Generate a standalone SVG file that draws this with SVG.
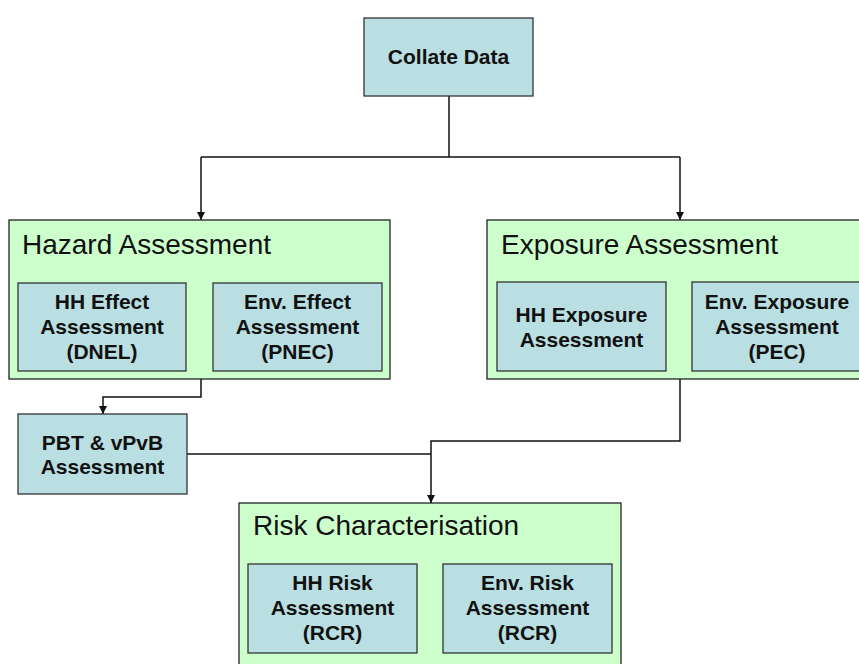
<svg xmlns="http://www.w3.org/2000/svg" width="859" height="664" viewBox="0 0 859 664">
<defs>
<style>
.outer{fill:#CCFFCC;stroke:#222;stroke-width:1.3}
.inner{fill:#B9DFE2;stroke:#333;stroke-width:1.3}
.title{font-family:"Liberation Sans",Arial,sans-serif;font-size:28px;fill:#111}
.lbl{font-family:"Liberation Sans",Arial,sans-serif;font-size:21px;font-weight:bold;fill:#111;text-anchor:middle}
.con{fill:none;stroke:#111;stroke-width:1.5}
</style>
<marker id="arr" viewBox="0 0 10 10" refX="10" refY="5" markerWidth="8" markerHeight="8" markerUnits="userSpaceOnUse" orient="auto">
<path d="M0,0 L10,5 L0,10 Z" fill="#111"/>
</marker>
</defs>
<rect width="859" height="664" fill="#fff"/>
<g id="connectors">
<path class="con" d="M449,96 V157 M201,157 H680"/>
<path class="con" d="M201,157 V220" marker-end="url(#arr)"/>
<path class="con" d="M680,157 V220" marker-end="url(#arr)"/>
<path class="con" d="M201,379 V397 H103 V414" marker-end="url(#arr)"/>
<path class="con" d="M680,379 V441 H431 V503" marker-end="url(#arr)"/>
<path class="con" d="M187,454 H431"/>
</g>
<g id="collate">
<rect class="inner" x="364" y="18" width="169" height="78"/>
<text class="lbl" x="448.5" y="64">Collate Data</text>
</g>
<g id="hazard">
<rect class="outer" x="9" y="220" width="381" height="159"/>
<text class="title" x="22" y="254">Hazard Assessment</text>
</g>
<g id="hh-effect">
<rect class="inner" x="18" y="283" width="168" height="88"/>
<text class="lbl" x="102" y="309">HH Effect</text>
<text class="lbl" x="102" y="334">Assessment</text>
<text class="lbl" x="102" y="359">(DNEL)</text>
</g>
<g id="env-effect">
<rect class="inner" x="213" y="283" width="169" height="88"/>
<text class="lbl" x="297.5" y="309">Env. Effect</text>
<text class="lbl" x="297.5" y="334">Assessment</text>
<text class="lbl" x="297.5" y="359">(PNEC)</text>
</g>
<g id="exposure">
<rect class="outer" x="487" y="220" width="390" height="159"/>
<text class="title" x="501" y="254">Exposure Assessment</text>
</g>
<g id="hh-exposure">
<rect class="inner" x="497" y="282" width="169" height="89"/>
<text class="lbl" x="581.5" y="322">HH Exposure</text>
<text class="lbl" x="581.5" y="347">Assessment</text>
</g>
<g id="env-exposure">
<rect class="inner" x="692" y="282" width="175" height="89"/>
<text class="lbl" x="777" y="309">Env. Exposure</text>
<text class="lbl" x="777" y="334">Assessment</text>
<text class="lbl" x="777" y="359">(PEC)</text>
</g>
<g id="pbt">
<rect class="inner" x="18" y="414" width="169" height="80"/>
<text class="lbl" x="102.5" y="450">PBT &amp; vPvB</text>
<text class="lbl" x="102.5" y="474">Assessment</text>
</g>
<g id="risk">
<rect class="outer" x="239" y="503" width="382" height="180"/>
<text class="title" x="253" y="535">Risk Characterisation</text>
</g>
<g id="hh-risk">
<rect class="inner" x="248" y="564" width="169" height="89"/>
<text class="lbl" x="332.5" y="590">HH Risk</text>
<text class="lbl" x="332.5" y="615">Assessment</text>
<text class="lbl" x="332.5" y="640">(RCR)</text>
</g>
<g id="env-risk">
<rect class="inner" x="443" y="564" width="169" height="89"/>
<text class="lbl" x="527.5" y="590">Env. Risk</text>
<text class="lbl" x="527.5" y="615">Assessment</text>
<text class="lbl" x="527.5" y="640">(RCR)</text>
</g>
</svg>
